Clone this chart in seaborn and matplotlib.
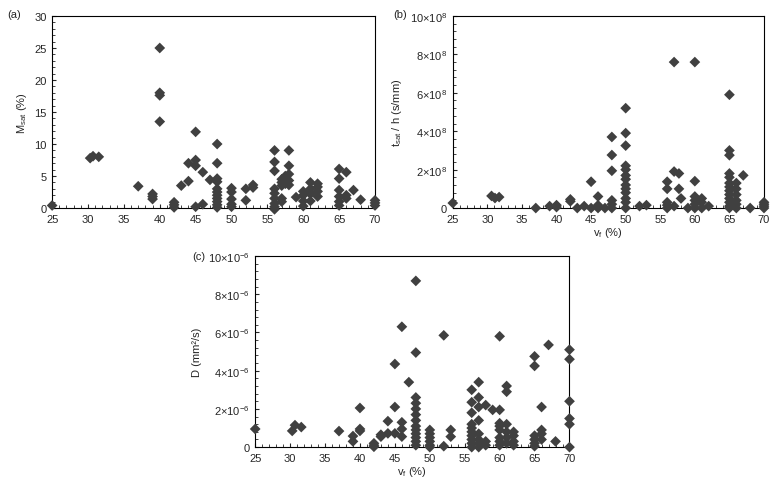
import numpy as np
import pandas as pd
import matplotlib
matplotlib.use("Agg")
import matplotlib.pyplot as plt
import seaborn as sns
from matplotlib.ticker import MultipleLocator

sns.set_style("ticks")
plt.rcParams['font.family'] = ['Liberation Sans', 'DejaVu Sans']
plt.rcParams['mathtext.fontset'] = 'custom'
plt.rcParams['mathtext.rm'] = 'Liberation Sans'
plt.rcParams['mathtext.it'] = 'Liberation Sans:italic'
plt.rcParams['font.size'] = 8

# (a) saturation moisture content vs fibre volume fraction
vf_a = [25, 30.3, 30.7, 31.5, 37, 39, 39, 39, 40, 40, 40, 40, 42, 42, 42, 43, 44, 44,
        45, 45, 45, 45, 46, 46, 47,
        48, 48, 48, 48, 48, 48, 48, 48, 48, 48, 48,
        50, 50, 50, 50, 50, 52, 52, 53, 53,
        56, 56, 56, 56, 56, 56, 56, 56, 56,
        57, 57, 57, 57, 57, 57.5, 57.5, 58, 58, 58, 58, 58,
        59, 60, 60, 60, 60, 61, 61, 61, 61, 62, 62, 62, 62,
        65, 65, 65, 65, 65, 65, 66, 66, 66, 67, 68, 70, 70, 70]
m_sat = [0.4, 7.8, 8.1, 8.0, 3.4, 2.2, 1.8, 1.4, 25.0, 18.0, 17.6, 13.5, 0.9, 0.5, 0.1, 3.5, 4.2, 7.0,
         11.9, 7.5, 6.6, 0.2, 5.6, 0.6, 4.4,
         10.0, 7.0, 4.6, 4.1, 3.0, 2.5, 2.0, 1.5, 1.0, 0.5, 0.1,
         3.1, 2.5, 1.4, 0.6, 0.2, 3.0, 1.2, 3.6, 3.2,
         9.0, 7.2, 5.8, 3.0, 2.3, 1.5, 0.7, 0.2, -0.2,
         4.0, 4.5, 3.5, 1.5, 1.0, 5.0, 3.8, 9.0, 6.6, 5.3, 4.3, 3.6,
         1.7, 2.6, 2.0, 1.1, 0.3, 4.0, 3.0, 2.2, 1.1, 3.8, 3.3, 2.6, 1.8,
         6.1, 4.6, 2.8, 1.8, 1.0, 0.4, 5.6, 2.0, 1.5, 2.8, 1.3, 1.2, 0.8, 0.4]

# (b) saturation time per thickness (x 1e8 s/mm)
vf_b = [25, 30.6, 31.1, 31.7, 37, 39, 40, 40, 42, 42, 43, 44, 45, 45, 46, 46, 46, 47,
        48, 48, 48, 48, 48, 48,
        50, 50, 50, 50, 50, 50, 50, 50, 50, 50, 50, 50, 50,
        52, 53, 56, 56, 56, 56, 56, 57, 57, 57, 57.7, 57.7, 58, 59,
        60, 60, 60, 60, 60, 60, 61, 61, 61, 62,
        65, 65, 65, 65, 65, 65, 65, 65, 65, 65, 65, 65, 65,
        66, 66, 66, 66, 66, 66, 67, 68, 70, 70, 70, 70]
t_sat_h = [0.26, 0.63, 0.52, 0.57, 0.0, 0.1, 0.15, 0.05, 0.45, 0.35, 0.0, 0.1, 1.37, 0.0, 0.6, 0.15, 0.0, 0.0,
           3.7, 2.76, 1.94, 0.4, 0.2, 0.0,
           5.2, 3.9, 3.25, 2.2, 2.0, 1.7, 1.5, 1.2, 1.0, 0.8, 0.5, 0.3, 0.0,
           0.1, 0.15, 1.37, 1.0, 0.3, 0.15, 0.0, 7.6, 1.9, 0.1, 1.8, 1.0, 0.5, 0.0,
           7.6, 1.4, 0.6, 0.4, 0.2, 0.0, 0.5, 0.3, 0.0, 0.1,
           5.9, 3.0, 2.75, 1.8, 1.6, 1.3, 1.1, 0.9, 0.7, 0.5, 0.3, 0.1, 0.0,
           1.3, 1.0, 0.7, 0.4, 0.2, 0.0, 1.7, 0.0, 0.3, 0.2, 0.1, 0.0]

# (c) diffusion coefficient (x 1e-6 mm2/s)
vf_c = [25, 30.3, 30.7, 31.6, 37, 39, 39, 40, 40, 40, 42, 42, 42, 43, 43, 44, 44,
        45, 45, 45, 46, 46, 46, 46, 47,
        48, 48, 48, 48, 48, 48, 48, 48, 48, 48, 48, 48, 48,
        50, 50, 50, 50, 50, 50, 52, 52, 53, 53,
        56, 56, 56, 56, 56, 56, 56, 56, 56, 56,
        57, 57, 57, 57, 57, 57, 57, 57, 58, 58, 58, 59,
        60, 60, 60, 60, 60, 60, 60, 60, 61, 61, 61, 61, 61, 61, 62, 62, 62, 62,
        65, 65, 65, 65, 65, 65, 66, 66, 66, 66, 67, 68, 70, 70, 70, 70, 70, 70]
diff = [0.95, 0.85, 1.15, 1.05, 0.84, 0.58, 0.3, 2.05, 0.95, 0.85, 0.2, 0.1, 0.02, 0.65, 0.55, 1.36, 0.72,
        4.35, 2.1, 0.72, 6.3, 1.3, 0.95, 0.55, 3.4,
        8.7, 4.95, 2.6, 2.3, 2.0, 1.7, 1.4, 1.1, 0.9, 0.7, 0.5, 0.3, 0.1,
        0.9, 0.7, 0.5, 0.3, 0.1, 0.0, 5.85, 0.05, 0.9, 0.55,
        3.0, 2.35, 1.8, 1.2, 1.0, 0.8, 0.6, 0.4, 0.2, 0.0,
        3.4, 2.6, 2.1, 1.4, 0.7, 0.4, 0.2, 0.0, 2.2, 0.3, 0.1, 1.95,
        5.8, 1.95, 1.25, 1.1, 0.9, 0.5, 0.3, 0.1, 3.2, 2.9, 1.2, 0.8, 0.5, 0.2, 0.8, 0.6, 0.3, 0.1,
        4.75, 4.25, 0.6, 0.4, 0.2, 0.05, 2.1, 0.9, 0.7, 0.4, 5.35, 0.3, 5.1, 4.6, 2.4, 1.5, 1.2, 0.0]

df_a = pd.DataFrame({'vf': vf_a, 'y': m_sat})
df_b = pd.DataFrame({'vf': vf_b, 'y': np.array(t_sat_h) * 1e8})
df_c = pd.DataFrame({'vf': vf_c, 'y': np.array(diff) * 1e-6})

MARKER_COLOR = '#404040'

fig = plt.figure(figsize=(7.78, 4.85), dpi=100)
ax_a = fig.add_axes([0.067, 0.569, 0.415, 0.396])
ax_b = fig.add_axes([0.582, 0.569, 0.400, 0.396])
ax_c = fig.add_axes([0.328, 0.076, 0.404, 0.394])


def style_axis(ax, ymax, ymajor, yminor):
    ax.set_xlim(25, 70)
    ax.set_ylim(0, ymax)
    ax.xaxis.set_major_locator(MultipleLocator(5))
    ax.xaxis.set_minor_locator(MultipleLocator(1))
    ax.yaxis.set_major_locator(MultipleLocator(ymajor))
    ax.yaxis.set_minor_locator(MultipleLocator(yminor))
    ax.tick_params(which='major', direction='in', length=3, width=0.8, labelsize=8, pad=4,
                   top=False, right=False)
    ax.tick_params(which='minor', direction='in', length=2, width=0.6, top=False, right=False)
    for s in ax.spines.values():
        s.set_visible(True)
        s.set_color('black')
        s.set_linewidth(0.8)
    ax.set_facecolor('white')


for ax, d in [(ax_a, df_a), (ax_b, df_b), (ax_c, df_c)]:
    sns.scatterplot(data=d, x='vf', y='y', ax=ax, marker='D', s=30,
                    color=MARKER_COLOR, edgecolor='none', linewidth=0,
                    clip_on=False, zorder=3)

style_axis(ax_a, 30, 5, 1)
style_axis(ax_b, 1e9, 2e8, 4e7)
style_axis(ax_c, 1e-5, 2e-6, 4e-7)

ax_b.set_yticks(np.arange(0, 1.01e9, 2e8))
ax_b.set_yticklabels(['0'] + [r'$%d{\times}10^{8}$' % k for k in (2, 4, 6, 8, 10)])
ax_c.set_yticks(np.arange(0, 1.01e-5, 2e-6))
ax_c.set_yticklabels(['0'] + [r'$%d{\times}10^{-6}$' % k for k in (2, 4, 6, 8, 10)])

ax_a.set_xlabel('')
ax_a.set_ylabel(r'M$_\mathrm{sat}$ (%)', fontsize=8)
ax_b.set_xlabel(r'v$_\mathrm{f}$ (%)', fontsize=8, labelpad=1)
ax_b.set_ylabel(r't$_\mathrm{sat}$ / h (s/mm)', fontsize=8)
ax_c.set_xlabel(r'v$_\mathrm{f}$ (%)', fontsize=8, labelpad=1)
ax_c.set_ylabel(r'D (mm²/s)', fontsize=8)

fig.text(0.009, 0.969, '(a)', fontsize=8, va='center')
fig.text(0.506, 0.969, '(b)', fontsize=8, va='center')
fig.text(0.247, 0.470, '(c)', fontsize=8, va='center')

fig.savefig('out.png', dpi=100, facecolor='white')
